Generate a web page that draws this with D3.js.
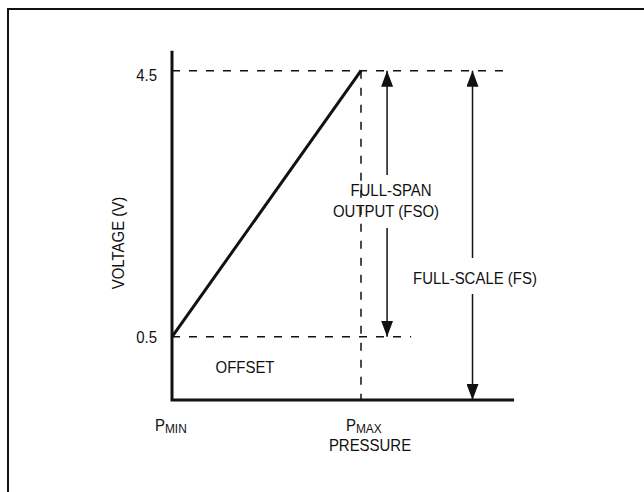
<!DOCTYPE html>
<meta charset="utf-8">
<html>
<head>
<script src="https://d3js.org/d3.v7.min.js"></script>
<style>
    body { margin: 0; background: #fff; }
    svg text { font-family: "Liberation Sans", Arial, sans-serif; fill: #111; }
</style>
</head>
<body>
<svg id="chart"></svg>
<script>
// schematic transfer function: pressure (PMIN=0, PMAX=1) vs output voltage
var pressure = [0, 1]
var voltage = [0.5, 4.5]
var yTicks = [0.5, 4.5]
var xTickLabels = [["P", "MIN"], ["P", "MAX"]]
// vertical dimension arrows: pressure position, from-volt, to-volt (null = axis floor)
var arrowNames = ["FSO", "FS"]
var arrowAt = [1.138, 1.59]
var arrowFrom = [0.5, null]
var arrowTo = [4.5, 4.5]
var arrowText = [["FULL-SPAN", "OUTPUT (FSO)"], ["FULL-SCALE (FS)"]]
// dashed guide lines: horizontal at voltage, reaching to pressure
var guideVolt = [4.5, 0.5]
var guideEnd = [1.77, 1.265]

var width = 644, height = 492
var svg = d3.select("#chart").attr("width", width).attr("height", height)

var x = d3.scaleLinear().domain([0, 1]).range([172, 361])
var y = d3.scaleLinear().domain([-0.45, 4.8]).range([400, 50.7])
var xEnd = 1.81
var fs = 17

// condensed-looking label: text drawn at origin, squeezed horizontally
function label(px, py, str, anchor, rot) {
    var t = svg.append("text")
        .attr("transform", "translate(" + px + "," + py + ")" + (rot ? " rotate(" + rot + ")" : "") + " scale(0.88,1)")
        .attr("text-anchor", anchor || "middle")
        .attr("font-size", fs + "px")
    if (str != null) t.text(str)
    return t
}

// frame (only left/top visible)
svg.append("rect")
    .attr("x", 8).attr("y", 9).attr("width", 700).attr("height", 600)
    .attr("fill", "none").attr("stroke", "#111").attr("stroke-width", 2)

svg.append("defs").append("marker")
    .attr("id", "head")
    .attr("markerUnits", "userSpaceOnUse")
    .attr("viewBox", "0 0 16 12")
    .attr("refX", 16).attr("refY", 6)
    .attr("markerWidth", 16).attr("markerHeight", 12)
    .attr("orient", "auto")
    .append("path").attr("d", "M0,0 L16,6 L0,12 Z").attr("fill", "#111")

var dash = "8,9"

// horizontal guides
svg.append("g").selectAll("line")
    .data(guideVolt)
    .join("line")
    .attr("x1", x(0)).attr("x2", (d, i) => x(guideEnd[i]))
    .attr("y1", d => y(d)).attr("y2", d => y(d))
    .attr("stroke", "#111").attr("stroke-width", 1.5)
    .attr("stroke-dasharray", dash)

// vertical guide at PMAX
svg.append("line")
    .attr("x1", x(1)).attr("x2", x(1))
    .attr("y1", y(4.5)).attr("y2", y.range()[0])
    .attr("stroke", "#111").attr("stroke-width", 1.5)
    .attr("stroke-dasharray", dash)

// axes
svg.append("path")
    .attr("d", d3.line()([[x(0), y.range()[1]], [x(0), y.range()[0]], [x(xEnd), y.range()[0]]]))
    .attr("fill", "none").attr("stroke", "#111").attr("stroke-width", 3)

// transfer line
svg.append("path")
    .attr("d", d3.line().x(d => x(d)).y((d, i) => y(voltage[i]))(pressure))
    .attr("fill", "none").attr("stroke", "#111").attr("stroke-width", 3)

// y tick labels
yTicks.forEach(function(v) {
    label(x(0) - 15, y(v) + 6 + (v > 4 ? 4 : 0), d3.format(".1f")(v), "end")
})

// x tick labels with subscripts
pressure.forEach(function(p, i) {
    var t = label(x(p) - (i == 0 ? 17 : 15), 431, null, "start")
    t.append("tspan").text(xTickLabels[i][0])
    t.append("tspan").attr("font-size", "13.5px").attr("dy", 2).text(xTickLabels[i][1])
})

label(x(1) + 9, 451, "PRESSURE")
label(124, 243, "VOLTAGE (V)", "middle", -90)
label(245, 373, "OFFSET")

// dimension arrows, broken around their labels
var labelTop = [175, 258]
var labelBot = [228, 294]
var labelY = [196, 284]
var labelX = [[391, 386], [475]]
arrowNames.forEach(function(name, i) {
    var xa = x(arrowAt[i])
    var yFrom = arrowFrom[i] == null ? y.range()[0] : y(arrowFrom[i])
    var yTo = y(arrowTo[i])
    svg.append("line")
        .attr("x1", xa).attr("x2", xa)
        .attr("y1", labelTop[i]).attr("y2", yTo)
        .attr("stroke", "#111").attr("stroke-width", 1.5)
        .attr("marker-end", "url(#head)")
    svg.append("line")
        .attr("x1", xa).attr("x2", xa)
        .attr("y1", labelBot[i]).attr("y2", yFrom)
        .attr("stroke", "#111").attr("stroke-width", 1.5)
        .attr("marker-end", "url(#head)")
    arrowText[i].forEach(function(s, j) {
        label(labelX[i][j], labelY[i] + j * 21, s)
    })
})
</script>
</body>
</html>
